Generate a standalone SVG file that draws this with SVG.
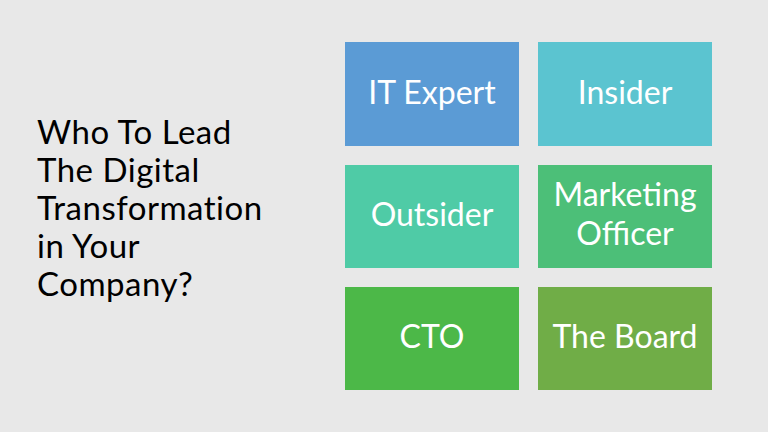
<svg xmlns="http://www.w3.org/2000/svg" width="768" height="432" viewBox="0 0 768 432">
<style>
text{font-family:Lato,"Open Sans",sans-serif}
.t{font-size:33px;fill:#000;letter-spacing:0.5px}
.b{font-size:32px;fill:#fff;text-anchor:middle}
</style>
<rect width="768" height="432" fill="#e8e8e8"/>
<g id="title"><text class="t" x="37" y="144">Who To Lead</text><text class="t" x="37" y="182">The Digital</text><text class="t" x="37" y="220">Transformation</text><text class="t" x="37" y="258">in Your</text><text class="t" x="37" y="296">Company?</text></g>
<g id="it"><rect x="345" y="42" width="174" height="104" fill="#5b9bd5"/><text class="b" x="432" y="104">IT Expert</text></g>
<g id="insider"><rect x="538" y="42" width="174" height="104" fill="#5bc4d0"/><text class="b" x="625" y="104">Insider</text></g>
<g id="outsider"><rect x="345" y="165" width="174" height="103" fill="#4fcba6"/><text class="b" x="432" y="226">Outsider</text></g>
<g id="marketing"><rect x="538" y="165" width="174" height="103" fill="#4cbf78"/><text class="b" x="625" y="206">Marketing</text><text class="b" x="625" y="245">Officer</text></g>
<g id="cto"><rect x="345" y="287" width="174" height="103" fill="#4cb848"/><text class="b" x="432" y="348">CTO</text></g>
<g id="board"><rect x="538" y="287" width="174" height="103" fill="#70ad47"/><text class="b" x="625" y="348">The Board</text></g>
<g id="connectors"/>
</svg>
